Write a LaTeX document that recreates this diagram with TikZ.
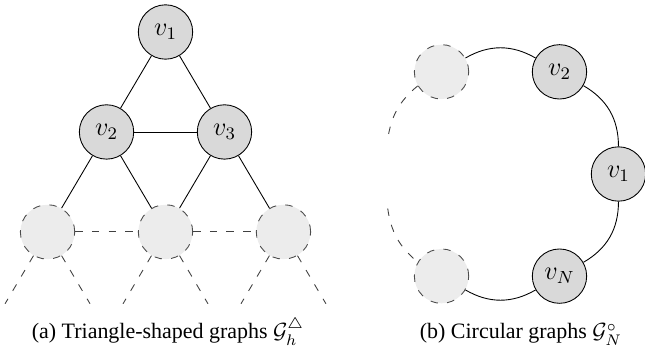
\documentclass[tikz,border=0pt]{standalone}
\usepackage{amsmath,amssymb}
\usepackage{fontspec}
\setmainfont{Liberation Serif}
\usepackage{tikz}
\usetikzlibrary{positioning}

\begin{document}
\begin{tikzpicture}[
    x=0.016cm, y=-0.016cm,
    node distance=1.6cm and 0.944cm, on grid,
    vtx/.style={draw, circle, fill=gray!30, minimum size=0.87cm, inner sep=0pt, font=\large},
    ghost/.style={draw=black!70, dash pattern=on 3.4pt off 4.2pt, circle, fill=gray!15, minimum size=0.87cm, inner sep=0pt},
    faint/.style={dash pattern=on 3.4pt off 4.2pt, black!75},
    subcap/.style={anchor=base, font=\normalsize},
  ]
    \useasboundingbox (0,0) rectangle (645,354);

    % (a) triangle-shaped graph
    \node[vtx] (v1) at (165.5,32) {$v_1$};
    \node[vtx, below left=of v1] (v2) {$v_2$};
    \node[vtx, below right=of v1] (v3) {$v_3$};
    \node[ghost, below left=of v2] (g1) {};
    \node[ghost, below right=of v2] (g2) {};
    \node[ghost, below right=of v3] (g3) {};

    \draw (v1) -- (v2);
    \draw (v1) -- (v3);
    \draw (v2) -- (v3);
    \draw (v2) -- (g1);
    \draw (v2) -- (g2);
    \draw (v3) -- (g2);
    \draw (v3) -- (g3);
    \draw[faint] (g1) -- (g2);
    \draw[faint] (g2) -- (g3);
    \foreach \g in {g1,g2,g3} {
      \coordinate (\g-l) at ([shift={(-0.68cm,-1.15cm)}]\g);
      \coordinate (\g-r) at ([shift={(0.68cm,-1.15cm)}]\g);
      \draw[faint] (\g) -- (\g-l);
      \draw[faint] (\g) -- (\g-r);
    }

    % (b) circular graph
    \coordinate (o) at (500.5,174);
    \node[vtx] (u1) at ([shift={(0:1.888cm)}]o) {$v_1$};
    \node[vtx] (u2) at ([shift={(60:1.888cm)}]o) {$v_2$};
    \node[vtx] (uN) at ([shift={(-60:1.888cm)}]o) {$v_N$};
    \node[ghost] (h1) at ([shift={(120:1.888cm)}]o) {};
    \node[ghost] (h2) at ([shift={(240:1.888cm)}]o) {};
    \coordinate (h1-end) at ([shift={(163:1.888cm)}]o);
    \coordinate (h2-end) at ([shift={(197:1.888cm)}]o);

    \draw (uN) to[bend right=30] (u1);
    \draw (u1) to[bend right=30] (u2);
    \draw (u2) to[bend right=30] (h1);
    \draw (h2) to[bend right=30] (uN);
    \draw[faint] (h1) to[bend right=21] (h1-end);
    \draw[faint] (h2-end) to[bend right=21] (h2);

    \node[subcap] (capa) at (168,339) {(a) Triangle-shaped graphs $\mathcal{G}_h^{\triangle}$};
    \node[subcap] (capb) at (521,339) {(b) Circular graphs $\mathcal{G}_N^{\circ}$};
  \end{tikzpicture}
\end{document}
